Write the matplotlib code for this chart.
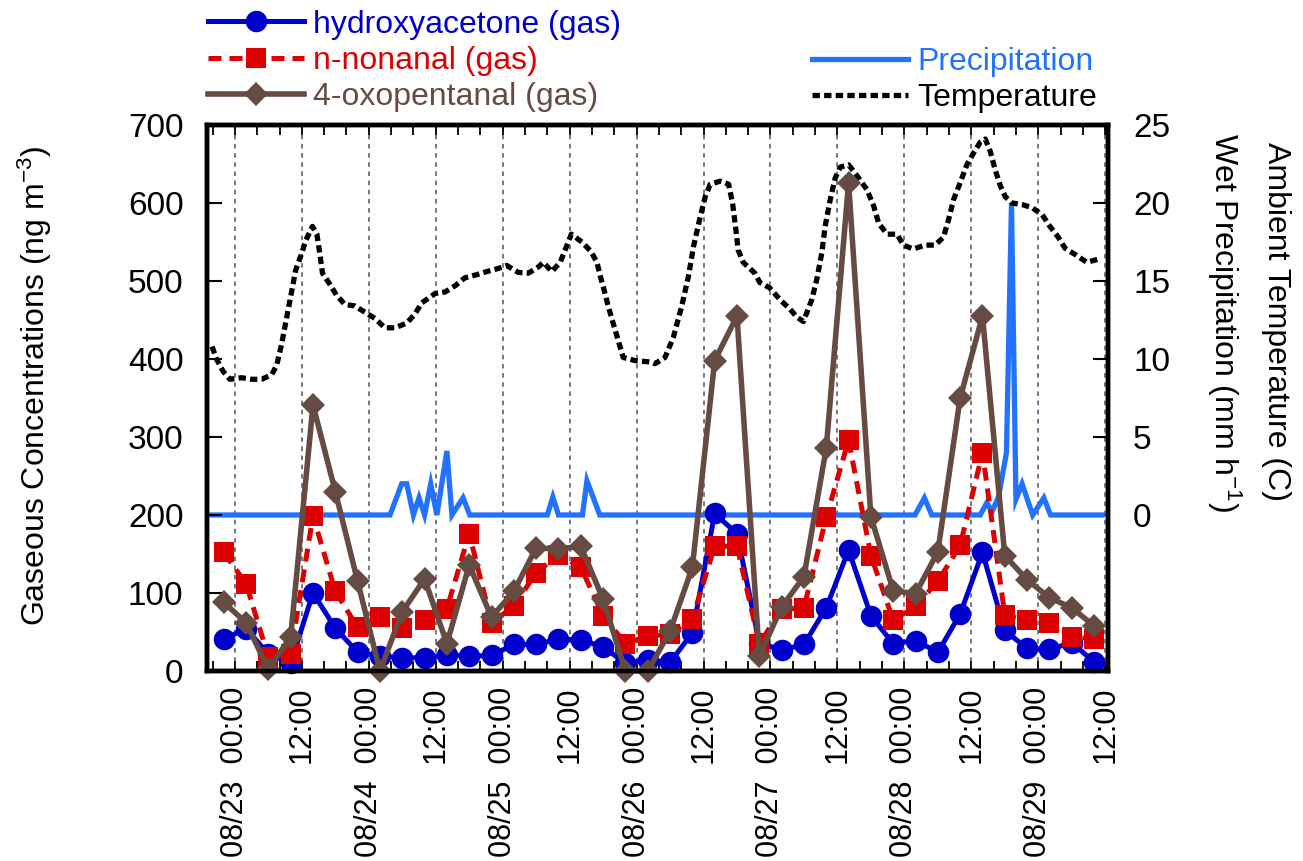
import matplotlib
matplotlib.use("Agg")
import matplotlib.pyplot as plt
from matplotlib.lines import Line2D

plt.rcParams['font.family'] = ['Liberation Sans', 'DejaVu Sans']
plt.rcParams['mathtext.default'] = 'regular'

# x values: hours relative to 08/23 00:00
sample_hours = [-2, 2, 6, 10, 14, 18, 22, 26, 30, 34, 38, 42, 46, 50, 54, 58, 62, 66, 70, 74,
                78, 82, 86, 90, 94, 98, 102, 106, 110, 114, 118, 122, 126, 130, 134, 138, 142, 146, 150, 154]

hydroxyacetone = [41, 54, 22, 10, 100, 55, 24, 19, 17, 17, 21, 19, 20, 34, 34, 41, 40, 31, 10, 14,
                  11, 49, 202, 176, 36, 27, 34, 81, 155, 71, 35, 39, 24, 73, 152, 52, 29, 28, 36, 12]
nonanal = [152, 112, 18, 22, 199, 102, 56, 69, 55, 65, 80, 176, 62, 83, 126, 149, 133, 71, 35, 45,
           47, 67, 160, 160, 35, 79, 81, 197, 296, 148, 65, 83, 115, 161, 280, 72, 65, 62, 44, 41]
oxopentanal = [88, 62, 2, 44, 341, 230, 115, 0, 76, 118, 35, 136, 69, 102, 158, 156, 160, 92, 0, 0,
               51, 133, 398, 455, 19, 82, 121, 286, 626, 198, 103, 99, 153, 350, 455, 148, 117, 94, 81, 58]

temp_hours = [-4.1, -3.3, -2.1, -0.9, 1.2, 3.0, 4.8, 6.6, 7.5, 8.4,
              9.3, 10.0, 10.9, 12.0, 12.7, 13.9, 14.7, 15.2, 15.7, 17.0,
              18.2, 19.7, 21.5, 23.3, 25.1, 26.9, 28.7, 30.8, 32.3, 33.5,
              35.9, 37.7, 39.5, 41.2, 43.3, 45.1, 47.2, 48.7, 50.8, 52.6,
              54.4, 55.3, 56.8, 58.3, 59.1, 60.3, 62.2, 63.8, 64.9, 65.5,
              66.2, 66.9, 67.8, 68.7, 69.6, 71.7, 74.7, 75.3, 77.1, 78.6,
              80.1, 81.3, 82.2, 83.4, 84.3, 85.2, 87.0, 88.5, 89.2, 89.8,
              90.2, 91.1, 93.2, 94.1, 95.9, 97.7, 99.5, 100.7, 101.9, 103.4,
              104.3, 105.2, 105.8, 106.7, 107.6, 108.5, 110.0, 111.2, 113.3, 114.5,
              115.4, 116.9, 118.7, 119.8, 121.6, 123.7, 125.5, 127.0, 127.9, 128.8,
              130.0, 131.2, 132.4, 133.6, 134.5, 135.4, 136.3, 137.2, 138.1, 139.3,
              141.1, 142.9, 144.7, 146.1, 147.6, 148.8, 150.6, 152.7, 154.8]
temperature = [10.8, 10.0, 9.2, 8.7, 8.8, 8.7, 8.7, 9.0, 9.6, 11.0,
               12.7, 14.0, 15.7, 16.8, 17.6, 18.5, 18.0, 16.8, 15.5, 14.8,
               14.1, 13.5, 13.4, 13.0, 12.6, 12.0, 12.0, 12.3, 12.9, 13.6,
               14.2, 14.3, 14.7, 15.2, 15.4, 15.6, 15.8, 16.0, 15.55, 15.5,
               15.9, 16.2, 15.6, 16.2, 16.9, 18.0, 17.5, 16.9, 16.2, 15.3,
               14.4, 13.4, 12.3, 11.2, 10.1, 9.9, 9.8, 9.7, 10.1, 11.4,
               13.4, 15.3, 17.2, 19.1, 20.4, 21.2, 21.4, 21.2, 20.0, 18.3,
               17.0, 16.2, 15.5, 14.9, 14.55, 13.8, 13.2, 12.7, 12.4, 13.8,
               15.1, 16.8, 18.5, 20.2, 21.6, 22.3, 22.45, 21.9, 20.85, 19.8,
               18.7, 18.0, 18.0, 17.3, 17.05, 17.3, 17.3, 17.8, 18.9, 20.2,
               21.3, 22.45, 23.2, 23.9, 24.1, 23.3, 22.1, 21.1, 20.4, 20.0,
               19.9, 19.7, 19.25, 18.5, 17.8, 17.1, 16.7, 16.2, 16.4]

precip_hours = [-4.5, 27.8, 29.9, 30.8, 32.0, 33.0, 34.0, 35.1, 36.2, 38.0, 38.9, 40.9, 42.1,
                56.0, 57.0, 58.0, 62.3, 63.1, 65.4, 121.9, 123.6, 124.9,
                133.6, 134.8, 135.7, 136.9, 138.3, 139.2, 140.0, 141.1, 143.0, 145.0, 146.2, 155.5]
precipitation = [0, 0, 2, 2, 0, 1.1, 0, 2, 0, 4.1, 0, 1.1, 0,
                 0, 1.15, 0, 0, 2.2, 0, 0, 1.1, 0,
                 0, 0.8, 0.2, 1.2, 4, 20, 1.0, 2.0, 0, 1.1, 0, 0]

tick_hours = [0, 12, 24, 36, 48, 60, 72, 84, 96, 108, 120, 132, 144, 156]
tick_labels = ['08/23  00:00', '12:00', '08/24  00:00', '12:00', '08/25  00:00', '12:00',
               '08/26  00:00', '12:00', '08/27  00:00', '12:00', '08/28  00:00', '12:00',
               '08/29  00:00', '12:00']
left_ticks = [0, 100, 200, 300, 400, 500, 600, 700]
right_ticks = [0, 5, 10, 15, 20, 25]

C_BLUE = '#0000CC'
C_RED = '#DD0000'
C_BROWN = '#654B42'
C_PREC = '#2272FF'

FS_X = 22
FS_Y = 24
FS_LAB = 23
FS_LEG = 23
fig = plt.figure(figsize=(13.03, 8.61), dpi=100)
ax = fig.add_axes([207/1303, 1-671/861, (1108-207)/1303, (671-125)/861])
ax2 = ax.twinx()
ax.set_zorder(ax2.get_zorder() + 1)
ax.patch.set_visible(False)

# right axis: temperature & precipitation
for h in tick_hours:
    ax2.axvline(h, color='#555555', lw=1.1, ls=(0, (3, 3)), zorder=1)
ax2.plot(precip_hours, precipitation, color=C_PREC, lw=3.8, zorder=3, solid_joinstyle='miter')
ax2.plot(temp_hours, temperature, color='black', lw=3.8, ls=(0, (1.4, 0.8)),
         dash_capstyle='butt', zorder=4)

# left axis: concentrations
ax.plot(sample_hours, hydroxyacetone, color=C_BLUE, lw=3.6, marker='o', ms=15.5,
        mew=0, clip_on=False)
ax.plot(sample_hours, nonanal, color=C_RED, lw=3.6, ls=(0, (2.6, 1.6)), marker='s', ms=15,
        mew=0, clip_on=False)
ax.plot(sample_hours, oxopentanal, color=C_BROWN, lw=4, marker='D', ms=12.5,
        mew=0, clip_on=False)

ax.set_xlim(-5, 156.5)
ax.set_ylim(0, 700)
ax2.set_ylim(-10, 25)

ax.set_xticks(tick_hours)
ax.set_xticklabels(tick_labels, rotation=90, ha='center', va='top', fontsize=FS_X)
ax.set_xticks(list(range(-4, 157, 4)), minor=True)
ax.tick_params(axis='x', which='both', direction='in', top=True, bottom=True,
               length=7, width=1.3, pad=11)
ax.set_yticks(left_ticks)
ax.tick_params(axis='y', which='major', direction='in', length=11, width=1.5,
               labelsize=FS_Y, pad=17)
ax2.set_yticks(right_ticks)
ax2.tick_params(axis='y', which='major', direction='in', length=11, width=1.5,
                labelsize=FS_Y, pad=18)

for a in (ax, ax2):
    for s in a.spines.values():
        s.set_linewidth(3.2)

fig.text(35/1303, 1-386/861, 'Gaseous Concentrations (ng m$^{-3}$)', rotation=90,
         ha='center', va='center', fontsize=FS_LAB)
fig.text(1224/1303, 1-322/861, 'Wet Precipitation (mm h$^{-1}$)', rotation=270,
         ha='center', va='center', fontsize=FS_LAB)
fig.text(1276/1303, 1-322/861, 'Ambient Temperature (C)', rotation=270,
         ha='center', va='center', fontsize=FS_LAB)

h1 = [Line2D([], [], color=C_BLUE, lw=3.6, marker='o', ms=15.5, mew=0),
      Line2D([], [], color=C_RED, lw=3.6, ls=(0, (2.6, 1.6)), marker='s', ms=15, mew=0),
      Line2D([], [], color=C_BROWN, lw=4, marker='D', ms=12.5, mew=0)]
l1 = ['hydroxyacetone (gas)', 'n-nonanal (gas)', '4-oxopentanal (gas)']
leg1 = fig.legend(h1, l1, loc='center left', bbox_to_anchor=(208/1303, 1-61/861),
                  frameon=False, fontsize=FS_LEG, handlelength=3.0, handletextpad=0.3,
                  labelspacing=0.2, borderpad=0, borderaxespad=0, numpoints=1)
for t, c in zip(leg1.get_texts(), [C_BLUE, C_RED, C_BROWN]):
    t.set_color(c)

h2 = [Line2D([], [], color=C_PREC, lw=3.8),
      Line2D([], [], color='black', lw=3.8, ls=(0, (1.4, 0.8)), dash_capstyle='butt')]
l2 = ['Precipitation', 'Temperature']
leg2 = fig.legend(h2, l2, loc='center left', bbox_to_anchor=(812/1303, 1-80/861),
                  frameon=False, fontsize=FS_LEG, handlelength=3.0, handletextpad=0.3,
                  labelspacing=0.2, borderpad=0, borderaxespad=0)
for t, c in zip(leg2.get_texts(), [C_PREC, 'black']):
    t.set_color(c)

fig.savefig('out.png', dpi=100)
